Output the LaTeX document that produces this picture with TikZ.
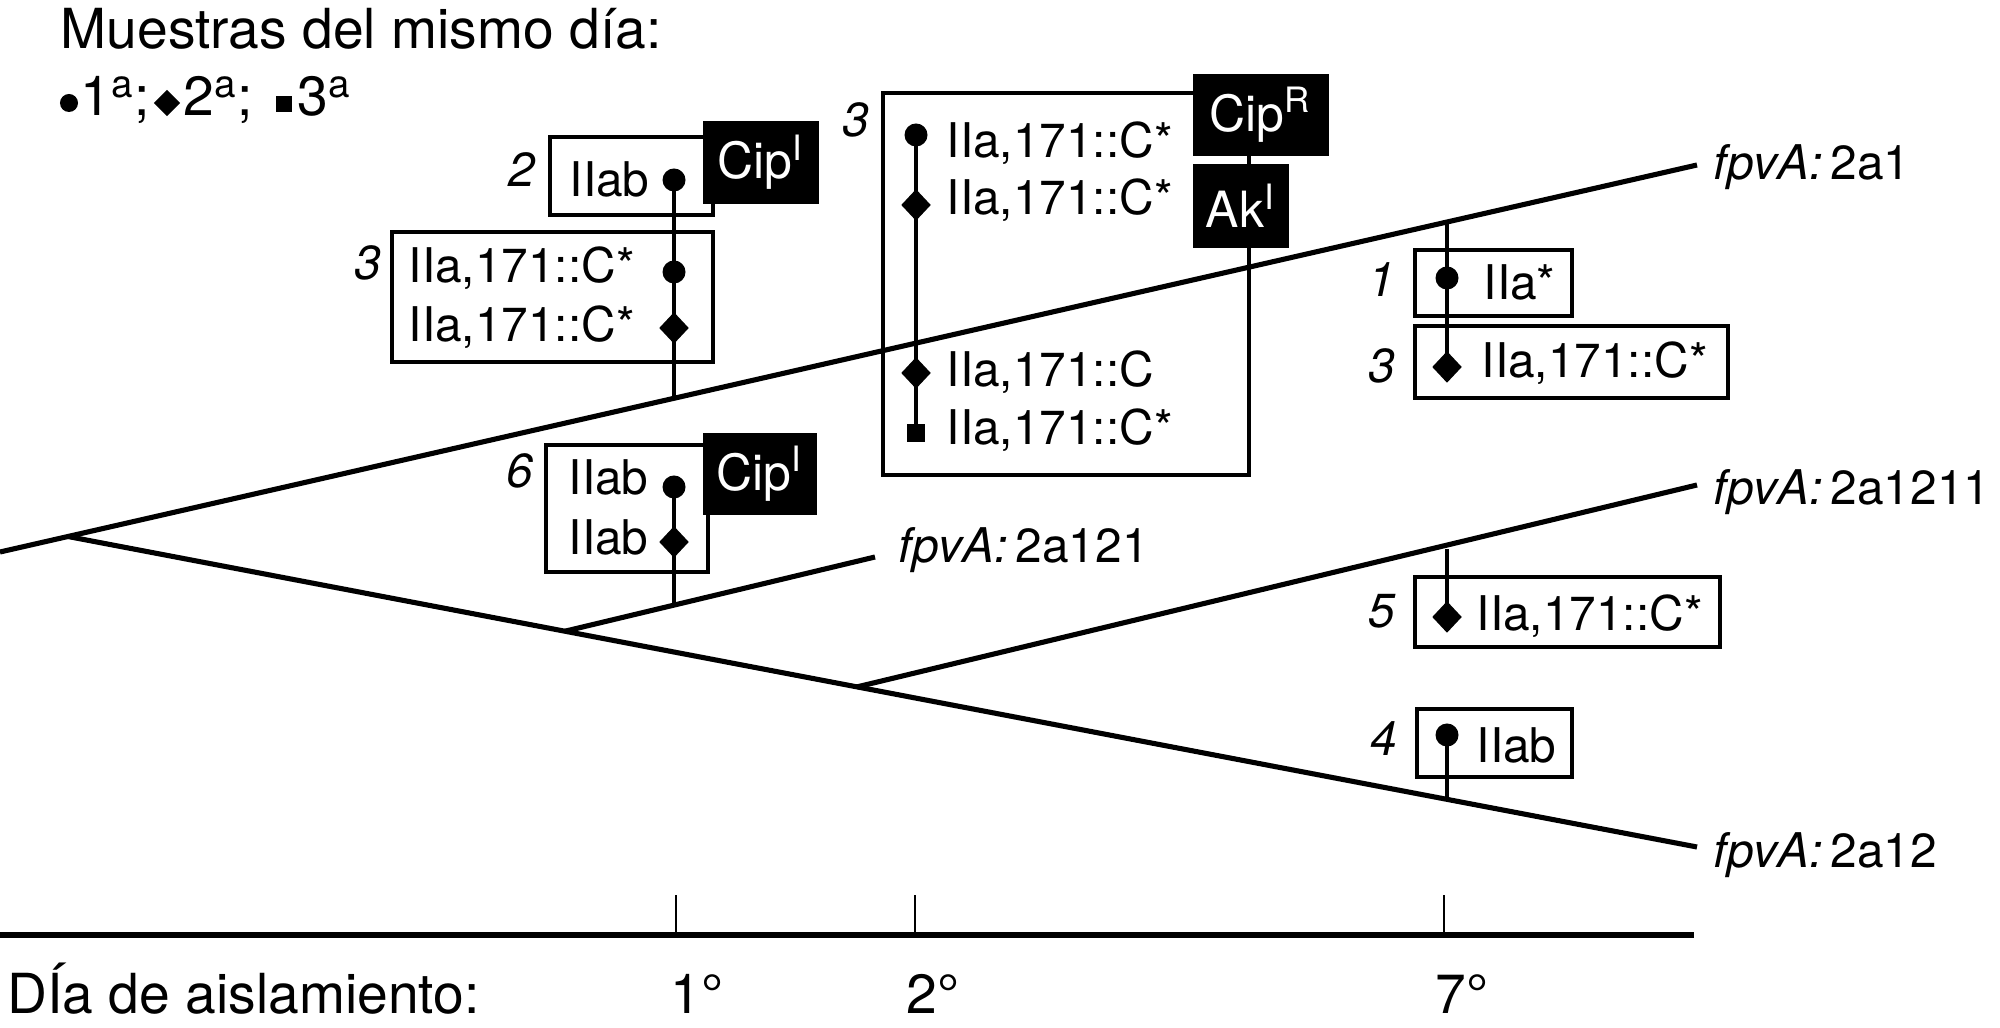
\documentclass[tikz,border=0pt]{standalone}
\usepackage{fontspec}
\setmainfont{TeX Gyre Heros}
\usetikzlibrary{shapes.geometric}
\newcommand{\bodyfs}{\fontsize{13.6}{16}\selectfont}
\newcommand{\bigfs}{\fontsize{15.7}{18}\selectfont}
\newcommand{\blkfs}{\fontsize{14.2}{17}\selectfont}
\begin{document}
\begin{tikzpicture}[x=0.01cm,y=-0.01cm,
  branch/.style={line width=1.45pt},
  databox/.style={draw, line width=1.15pt},
  conn/.style={line width=0.95pt},
  axisline/.style={line width=1.6pt},
  tickline/.style={line width=0.8pt},
  dotmk/.style={circle, fill=black, inner sep=0pt, minimum size=0.23cm},
  diamk/.style={diamond, fill=black, inner sep=0pt, minimum width=0.30cm, minimum height=0.32cm},
  sqmk/.style={rectangle, fill=black, inner sep=0pt, minimum size=0.18cm},
  txt/.style={anchor=base west, inner sep=0pt, font=\bodyfs},
  num/.style={anchor=base east, inner sep=0pt, font=\bodyfs\itshape},
  bigtxt/.style={anchor=base west, inner sep=0pt, font=\bigfs},
  blk/.style={fill=black, text=white, inner sep=0pt, anchor=north west, font=\blkfs}
]
\useasboundingbox (0,0) rectangle (2000,1028);
\fill[white] (0,0) rectangle (2000,1028);

% ---------- legend ----------
\node[bigtxt] (leg1) at (60,49) {Muestras del mismo día:};
\node[dotmk, minimum size=0.18cm] (lgd1) at (69,103) {};
\node[bigtxt] (lgt1) at (80,116) {1\textsuperscript{a};};
\node[diamk, minimum width=0.27cm, minimum height=0.27cm] (lgd2) at (167,103) {};
\node[bigtxt] (lgt2) at (183,116) {2\textsuperscript{a};};
\node[sqmk, minimum size=0.16cm] (lgd3) at (284,104) {};
\node[bigtxt] (lgt3) at (297,116) {3\textsuperscript{a}};

% ---------- tree coordinates ----------
\coordinate (L0) at (0,552);
\coordinate (R) at (68,536.5);
\coordinate (E1) at (1697,165);
\coordinate (E12) at (1697,847);
\coordinate (B121) at (565,631.2);
\coordinate (E121) at (875,557);
\coordinate (B1211) at (857,686.9);
\coordinate (E1211) at (1697,485);

\draw[branch] (L0) -- (E1);
\draw[branch] (R) -- (E12);
\draw[branch] (B121) -- (E121);
\draw[branch] (B1211) -- (E1211);

\node[txt] (lab1) at (1713,180) {\textit{fpvA:}\,2a1};
\node[txt] (lab1211) at (1713,505) {\textit{fpvA:}\,2a1211};
\node[txt] (lab12) at (1713,867) {\textit{fpvA:}\,2a12};
\node[txt] (lab121) at (898,563) {\textit{fpvA:}\,2a121};

% ---------- connector end points on branches ----------
\coordinate (c1) at (674,398.3);
\coordinate (c6) at (674,605.1);
\coordinate (c13) at (1447,222);
\coordinate (c5) at (1447,549);
\coordinate (c4) at (1447,799.3);

% ---------- boxes ----------
\draw[databox] (550,137) rectangle (713,215);
\draw[databox] (392,232) rectangle (713,362);
\draw[databox] (546,445) rectangle (708,572);
\draw[databox] (883,93) rectangle (1249,475);
\draw[databox] (1415,250) rectangle (1572,316);
\draw[databox] (1415,326) rectangle (1728,398);
\draw[databox] (1415,577) rectangle (1720,647);
\draw[databox] (1417,709) rectangle (1572,777);

% ---------- markers ----------
\node[dotmk] (m2) at (674,180) {};
\node[dotmk] (m3a) at (674,272) {};
\node[diamk] (m3b) at (674,328) {};
\node[dotmk] (m6a) at (674,487) {};
\node[diamk] (m6b) at (674,542) {};
\node[dotmk] (mb1) at (916,135) {};
\node[diamk] (mb2) at (916,205) {};
\node[diamk] (mb3) at (916,373) {};
\node[sqmk] (mb4) at (916,433) {};
\node[dotmk] (m1) at (1447,278) {};
\node[diamk] (m3r) at (1447,367) {};
\node[diamk] (m5) at (1447,617) {};
\node[dotmk] (m4) at (1447,735) {};

\draw[conn] (m2.center) -- (c1);
\draw[conn] (m6a.center) -- (c6);
\draw[conn] (mb1.center) -- (mb4.center);
\draw[conn] (c13) -- (m3r.center);
\draw[conn] (c5) -- (m5.center);
\draw[conn] (m4.center) -- (c4);

% ---------- texts in boxes ----------
\node[num] (n2) at (536,187) {2};
\node[txt] (t2) at (569,197) {IIab};
\node[num] (n3) at (382,280) {3};
\node[txt] (t3a) at (408,283) {IIa,171::C*};
\node[txt] (t3b) at (408,342) {IIa,171::C*};
\node[num] (n6) at (534,488) {6};
\node[txt] (t6a) at (568,495) {IIab};
\node[txt] (t6b) at (568,555) {IIab};
\node[num] (nb) at (870,137) {3};
\node[txt] (tb1) at (946,158) {IIa,171::C*};
\node[txt] (tb2) at (946,215) {IIa,171::C*};
\node[txt] (tb3) at (946,387) {IIa,171::C};
\node[txt] (tb4) at (946,445) {IIa,171::C*};
\node[num] (n1) at (1396,297) {1};
\node[txt] (t1) at (1483,300) {IIa*};
\node[num] (n3r) at (1396,383) {3};
\node[txt] (t3r) at (1481,378) {IIa,171::C*};
\node[num] (n5) at (1396,628) {5};
\node[txt] (t5) at (1476,630) {IIa,171::C*};
\node[num] (n4) at (1398,755) {4};
\node[txt] (t4) at (1476,762) {IIab};

% ---------- black resistance boxes ----------
\node[blk, minimum width=1.16cm, minimum height=0.83cm] (cip1) at (702,120) {Cip\textsuperscript{I}};
\node[blk, minimum width=1.14cm, minimum height=0.82cm] (cip2) at (702,432) {Cip\textsuperscript{I}};
\node[blk, minimum width=1.36cm, minimum height=0.82cm] (cipr) at (1192,73) {Cip\textsuperscript{R}};
\node[blk, minimum width=0.96cm, minimum height=0.84cm] (ak) at (1192,163) {Ak\textsuperscript{I}};

% ---------- time axis ----------
\coordinate (A0) at (0,935);
\coordinate (A1) at (1694,935);
\draw[axisline] (A0) -- (A1);
\coordinate (k1a) at (676,895); \coordinate (k1b) at (676,935);
\coordinate (k2a) at (915,895); \coordinate (k2b) at (915,935);
\coordinate (k7a) at (1444,895); \coordinate (k7b) at (1444,935);
\draw[tickline] (k1a) -- (k1b);
\draw[tickline] (k2a) -- (k2b);
\draw[tickline] (k7a) -- (k7b);
\node[bigtxt] (axlab) at (7,1013) {DÍa de aislamiento:};
\node[bigtxt] (d1) at (670,1013) {1°};
\node[bigtxt] (d2) at (906,1013) {2°};
\node[bigtxt] (d7) at (1435,1013) {7°};
\end{tikzpicture}
\end{document}
